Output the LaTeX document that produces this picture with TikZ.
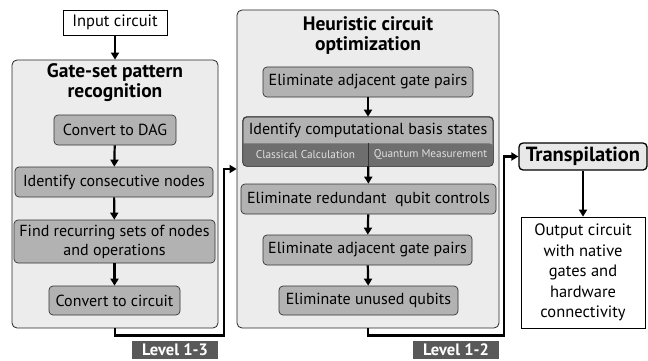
\documentclass[tikz,border=0pt]{standalone}
\usepackage{fontspec}
\setmainfont{PT Sans}
\usetikzlibrary{arrows.meta}
\tikzset{
  stepbox/.style={draw=black!80, fill=gray!60, rounded corners=4pt, line width=0.7pt, inner sep=0pt, font=\fontsize{16}{19}\selectfont, align=center},
  groupbox/.style={draw=black!85, fill=gray!15, rounded corners=5pt, line width=0.8pt, inner sep=0pt},
  grouptitle/.style={font=\fontsize{19.5}{20}\selectfont\bfseries, align=center},
  iobox/.style={draw=black, fill=white, line width=0.7pt, inner sep=0pt, font=\fontsize{16.5}{20.5}\selectfont, align=center},
  levelbox/.style={fill=black!65, text=white, inner sep=0pt, font=\fontsize{16.5}{18}\selectfont\bfseries},
  flow/.style={line width=2.2pt, -{Triangle[length=7pt,width=8pt]}},
}
\begin{document}
\begin{tikzpicture}[x=1pt,y=-1pt]
\useasboundingbox (0,0) rectangle (648,361);
% input
\node[iobox, minimum width=104pt, minimum height=25pt] (input) at (115,22.5) {Input circuit};
%------------------ gate-set pattern recognition
\node[groupbox, minimum width=206pt, minimum height=268pt] (pattern) at (115,194) {};
\node[grouptitle] (patterntitle) at (115,83) {Gate-set pattern\\recognition};
\node[stepbox, minimum width=122pt, minimum height=30pt] (dag) at (115,130) {Convert to DAG};
\node[stepbox, minimum width=198pt, minimum height=30pt] (consec) at (114,182) {Identify consecutive nodes};
\node[stepbox, minimum width=201pt, minimum height=43pt] (recur) at (114.5,241.5) {Find recurring sets of nodes\\and operations};
\node[stepbox, minimum width=131pt, minimum height=29pt] (tocirc) at (114.5,300.5) {Convert to circuit};
\draw[flow] (input) -- (pattern.north);
\foreach \a/\b in {dag/consec, consec/recur, recur/tocirc}
  \draw[flow] (\a) -- (\b);
%------------------ heuristic circuit optimization
\node[groupbox, minimum width=262pt, minimum height=318pt] (hopt) at (368,169) {};
\node[grouptitle] (hopttitle) at (368,36) {Heuristic circuit\\optimization};
\node[stepbox, minimum width=210pt, minimum height=30pt] (adjA) at (368,82) {Eliminate adjacent gate pairs};
\node[stepbox, minimum width=250pt, minimum height=49pt] (basis) at (368,141.5) {};
\fill[black!57, rounded corners=4pt] ([yshift=23pt]basis.south west) -- (basis.south west) -- (basis.south east) -- ([yshift=23pt]basis.south east) [sharp corners] -- cycle;
\draw[black!80, line width=0.7pt, rounded corners=4pt] (basis.north west) rectangle (basis.south east);
\draw[black!80, line width=0.7pt] ([yshift=23pt]basis.south) -- (basis.south);
\node[font=\fontsize{16}{19}\selectfont] (basistext) at (368,130) {Identify computational basis states};
\node[text=black!12, font=\fontsize{11.3}{13}\selectfont] (classical) at (305.5,155) {Classical Calculation};
\node[text=black!12, font=\fontsize{11.3}{13}\selectfont] (quantum) at (430.5,155) {Quantum Measurement};
\node[stepbox, minimum width=255pt, minimum height=30pt] (redund) at (368.5,199) {Eliminate redundant~ qubit controls};
\node[stepbox, minimum width=209pt, minimum height=30pt] (adjB) at (367.5,250) {Eliminate adjacent gate pairs};
\node[stepbox, minimum width=179pt, minimum height=29pt] (unused) at (368.5,300.5) {Eliminate unused qubits};
\foreach \a/\b in {adjA/basis, basis/redund, redund/adjB, adjB/unused}
  \draw[flow] (\a) -- (\b);
%------------------ transpilation and output
\node[draw=black, line width=1.3pt, fill=gray!18, rounded corners=4pt, minimum width=128pt, minimum height=27pt, inner sep=0pt, font=\fontsize{20.5}{22}\selectfont\bfseries] (transp) at (583,156.5) {Transpilation};
\node[iobox, minimum width=124pt, minimum height=111pt] (output) at (583,272.5) {Output circuit\\with native\\gates and\\hardware\\connectivity};
\draw[flow] (transp) -- (output);
%------------------ connectors between stages
\draw[flow] (pattern.south) -- ++(0,7) -| ([xshift=-13pt]hopt.west) -- (hopt.west);
\draw[flow] (hopt.south) -- ++(0,7) -| ([xshift=-14pt]transp.west) -- (transp.west);
\node[levelbox, minimum width=86pt, minimum height=18pt] (levelA) at (175,350) {Level 1-3};
\node[levelbox, minimum width=86pt, minimum height=18pt] (levelB) at (456,350) {Level 1-2};
\end{tikzpicture}
\end{document}
